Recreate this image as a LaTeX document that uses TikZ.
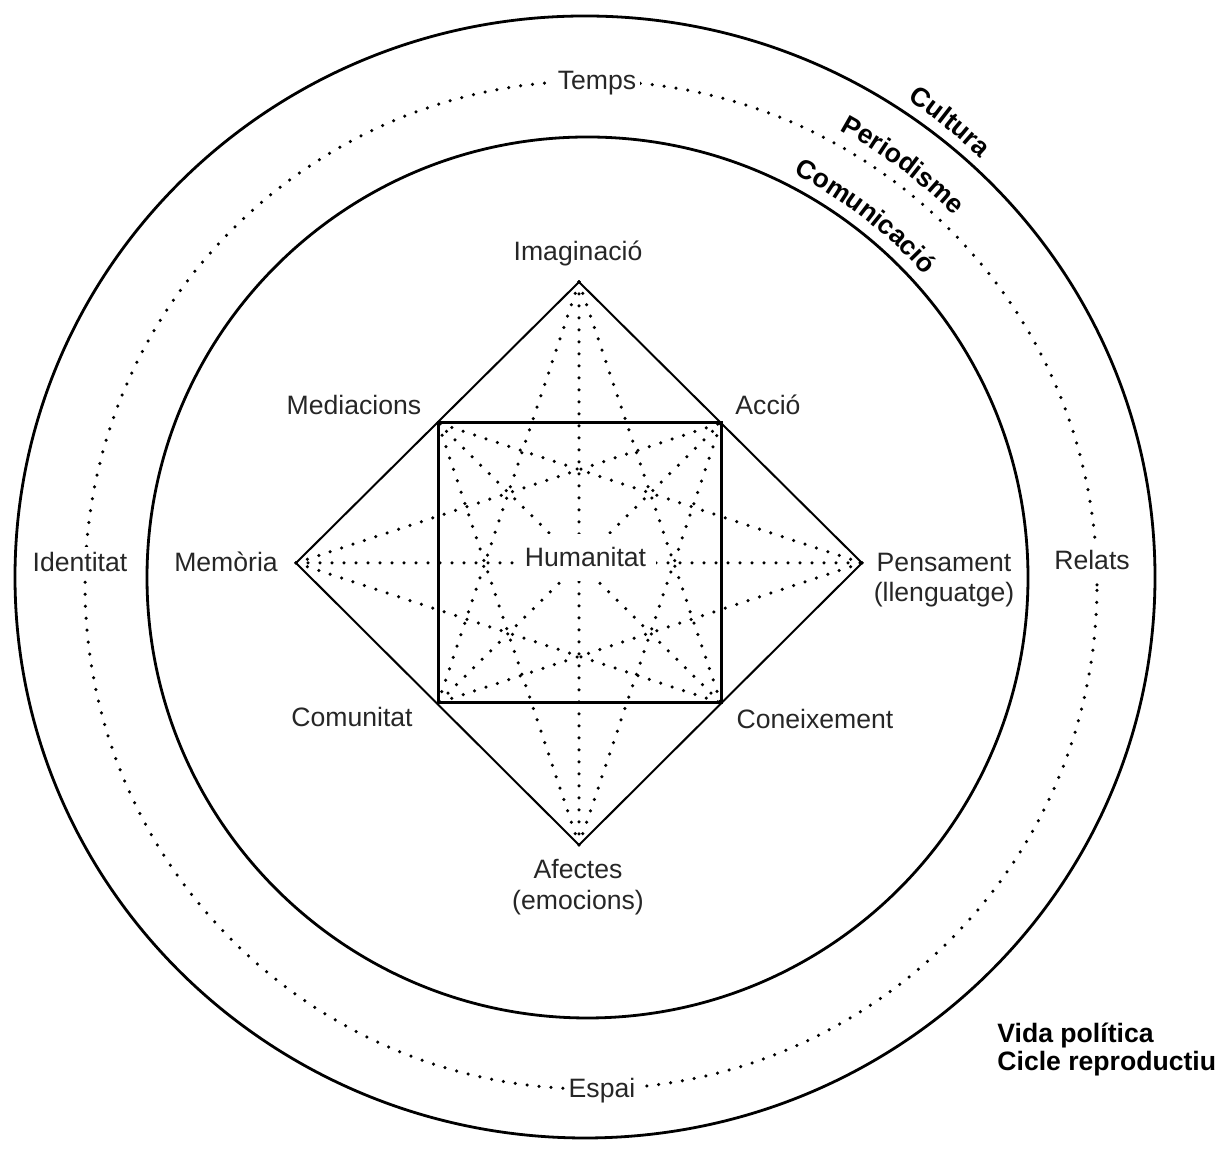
\documentclass[tikz,border=0pt]{standalone}
\usepackage{fontspec}
\setmainfont{Liberation Sans}
\usetikzlibrary{decorations.text}
\begin{document}
\begin{tikzpicture}[x=0.5pt,y=0.5pt,
  lbl/.style={font=\fontsize{13.3}{16}\selectfont, text=black!85, inner sep=0pt, anchor=base},
  ringlbl/.style={lbl, fill=white, inner xsep=2pt, inner ysep=3pt},
  boldlbl/.style={font=\fontsize{13.3}{16}\selectfont\bfseries, inner sep=0pt, anchor=base west},
  ring/.style={line width=1.4pt},
  dotline/.style={line width=1.75pt, line cap=round, dash pattern=on 0pt off 6pt},
  edgeline/.style={line width=1pt},
  boxline/.style={line width=1.5pt},
  arctext/.style={decorate, decoration={text along path, text align=center,
     text={|\fontsize{13.3}{16}\selectfont\bfseries|#1}}},
]
\useasboundingbox (0,0) rectangle (1221,1149);

% centres of the rings
\coordinate (oc) at (585,572);
\coordinate (dc) at (591,564);
\coordinate (ic) at (587.5,571.5);

% rings
\draw[ring] (oc) ellipse [x radius=570, y radius=561];
\draw[ring] (ic) circle [radius=440.5];
\draw[dotline] (dc) ellipse [x radius=506, y radius=504];

% diamond and square corners
\coordinate (dt) at (579,867);
\coordinate (db) at (579,304);
\coordinate (dl) at (296,586);
\coordinate (dr) at (862,586);
\coordinate (stl) at (438,726);
\coordinate (str) at (721,726);
\coordinate (sbl) at (438,446);
\coordinate (sbr) at (721,446);

% dotted star
\draw[dotline] (dt) -- (db);
\draw[dotline] (dl) -- (dr);
\draw[dotline] (stl) -- (sbr);
\draw[dotline] (str) -- (sbl);
\draw[dotline] (dt) -- (sbl);
\draw[dotline] (dt) -- (sbr);
\draw[dotline] (db) -- (stl);
\draw[dotline] (db) -- (str);
\draw[dotline] (dl) -- (str);
\draw[dotline] (dl) -- (sbr);
\draw[dotline] (dr) -- (stl);
\draw[dotline] (dr) -- (sbl);

% solid diamond and square
\draw[edgeline] (dt) -- (dr) -- (db) -- (dl) -- cycle;
\draw[boxline] (stl) rectangle (sbr);

% labels of the figure
\node[lbl] (imag) at (578,888) {Imaginació};
\node[lbl] (medi) at (354,734) {Mediacions};
\node[lbl] (accio) at (768,734) {Acció};
\node[lbl] (memo) at (226,577) {Memòria};
\node[lbl] (pens1) at (944,577) {Pensament};
\node[lbl] (pens2) at (944,547) {(llenguatge)};
\node[lbl, fill=white, inner xsep=5pt, inner ysep=7pt] (hum) at (585.5,582) {Humanitat};
\node[lbl] (comu) at (352,422) {Comunitat};
\node[lbl] (cone) at (815,420) {Coneixement};
\node[lbl] (afec1) at (578,270) {Afectes};
\node[lbl] (afec2) at (578,239) {(emocions)};

% labels on the dotted ring
\node[ringlbl] (temps) at (597,1059) {Temps};
\node[ringlbl] (espai) at (602,51) {Espai};
\node[ringlbl] (ident) at (80,577) {Identitat};
\node[ringlbl] (relats) at (1092,579) {Relats};

% curved labels
\path[arctext=Cultura] (oc) ++(76.3:576) arc[start angle=76.3, end angle=26.3, radius=576];
\path[arctext=Periodisme] (dc) ++(78.4:518.5) arc[start angle=78.4, end angle=28.4, radius=518.5];
\path[arctext=Comunicació] (ic) ++(77.45:453) arc[start angle=77.45, end angle=27.45, radius=453];

% bottom-right labels
\node[boldlbl] (vida) at (997,106) {Vida política};
\node[boldlbl] (cicle) at (997,78) {Cicle reproductiu};
\end{tikzpicture}
\end{document}
